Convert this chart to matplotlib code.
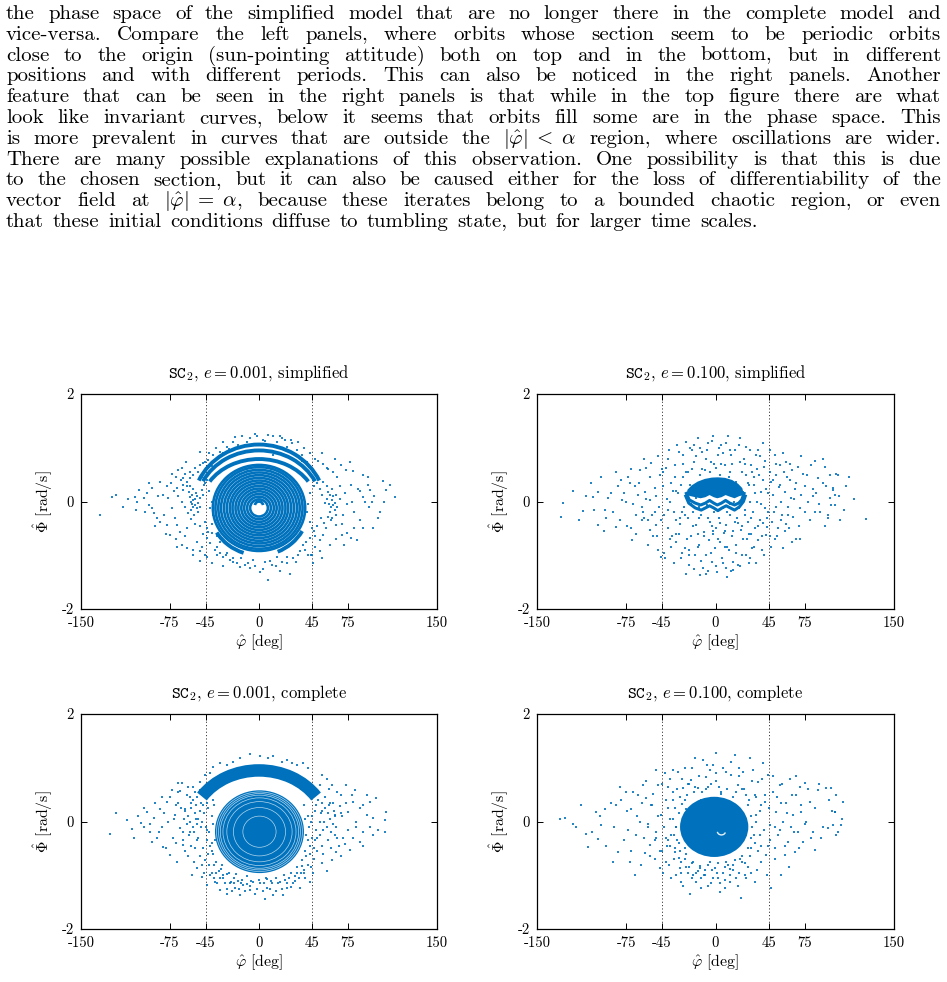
import numpy as np
import matplotlib
matplotlib.use('Agg')
import matplotlib.pyplot as plt
from matplotlib.patches import Ellipse, Arc

plt.rcParams['mathtext.fontset'] = 'cm'
plt.rcParams['font.family'] = ['cmr10', 'DejaVu Serif']
plt.rcParams['axes.unicode_minus'] = False
plt.rcParams['axes.formatter.use_mathtext'] = True
plt.rcParams['lines.scale_dashes'] = False

# ---------------- data ----------------
xticks = [-150, -75, -45, 0, 45, 75, 150]
xtick_labels = ['-150', '-75', '-45', '0', '45', '75', '150']
yticks = [-2, 0, 2]
ytick_labels = ['-2', '0', '2']
alpha_lines = [-45, 45]

titles = [r'$\mathtt{SC}_2$, $e = 0.001$, simplified',
          r'$\mathtt{SC}_2$, $e = 0.100$, simplified',
          r'$\mathtt{SC}_2$, $e = 0.001$, complete',
          r'$\mathtt{SC}_2$, $e = 0.100$, complete']

paragraph = [
    "the phase space of the simplified model that are no longer there in the complete model and",
    "vice-versa. Compare the left panels, where orbits whose section seem to be periodic orbits",
    "close to the origin (sun-pointing attitude) both on top and in the bottom, but in different",
    "positions and with different periods. This can also be noticed in the right panels. Another",
    "feature that can be seen in the right panels is that while in the top figure there are what",
    "look like invariant curves, below it seems that orbits fill some are in the phase space. This",
    r"is more prevalent in curves that are outside the $|\hat{\varphi}|\;<\;\alpha$ region, where oscillations are wider.",
    "There are many possible explanations of this observation. One possibility is that this is due",
    "to the chosen section, but it can also be caused either for the loss of differentiability of the",
    r"vector field at $|\hat{\varphi}|\;=\;\alpha$, because these iterates belong to a bounded chaotic region, or even",
    "that these initial conditions diffuse to tumbling state, but for larger time scales.",
]

# top-left: invariant rings (center, semi-axes)
tl_ring_center = (0.0, -0.12)
tl_ring_a = [7.5, 10.0, 12.5, 14.9, 17.4, 19.8, 22.3, 24.6, 27.1, 29.5, 32.0, 34.3, 36.7, 38.9]
tl_ring_b = [0.16, 0.21, 0.26, 0.31, 0.36, 0.41, 0.46, 0.51, 0.56, 0.61, 0.66, 0.71, 0.76, 0.80]
# small cap inside the central hole
tl_cap = (0.0, -0.08, 3.5, 0.08)
# top-left: island arcs (a, b, t1, t2)  -- parametric angles in degrees
tl_arc_a = [56, 53, 49, 42, 42]
tl_arc_b = [1.16, 1.05, 0.89, 0.90, 0.90]
tl_arc_t1 = [25, 27, 32, 212, 292]
tl_arc_t2 = [155, 153, 148, 252, 330]

# top-left chaotic sea
tl_sea = [(-133.7,-0.25),(-124,0.09),(-120.3,0.12),(-101.5,0.21),(-104.3,0.09),(-102.9,0.0),(-103.5,-0.16),
    (-94.5,0.15),(-97.3,0.06),(-93.1,-0.07),(-90.3,-0.13),(-88.9,-0.22),(-86.1,-0.31),(-83.3,-0.38),(-93.1,0.34),
    (-83.3,0.37),(-77.7,0.28),(-80.5,0.12),(-76.3,0.06),(-73.5,-0.13),(-70.7,-0.31),(-69.3,-0.44),(-66.5,-0.56),
    (-62.3,-0.65),(-60.8,-0.5),(-69.3,-0.84),(-52.4,-0.75),(-48.2,-0.84),(-77.7,-0.44),(-74.9,-0.62),(-73.5,0.52),
    (-67.9,0.59),(-63.7,0.43),(-60.8,0.37),(-58.0,0.28),(-59.4,0.18),(-56.6,0.12),(-55.2,0.03),(-53.8,-0.07),
    (-52.4,-0.13),(-57.5,0.0),(-51.0,-0.03),(-49.6,0.06),(-55.8,-0.1),(-53.0,0.15),(-48.2,0.21),(-46.8,0.12),
    (-55.2,0.24),(-60.8,0.28),(-63.7,0.21),(-51.6,-0.19),(-54.5,-0.25),(-56.5,-0.05),(-58.5,0.08),(-54.0,0.05),
    (-52.0,0.1),(-57.0,-0.15),(-50.0,-0.1),(-45.4,0.34),(-44,0.40),(-48.2,0.46),(-55.2,0.49),(-58,0.43),(-51,0.55),
    (-49.6,0.93),(-45.4,0.74),(-61.4,0.74),(-65.1,0.62),(-44,-0.5),(-39.8,-0.59),(-35.6,-0.65),(-32.8,-0.75),
    (-35.6,-1.0),(-30,-1.03),(-27.2,-0.96),(-24.4,-1.09),(-21.6,-1.06),(-18.8,-1.15),(-16,-1.21),(-11.8,-1.18),
    (-7.6,-1.24),(-4.8,-1.09),(0.8,-1.31),(7.8,-1.46),(5,-1.12),(10.6,-1.18),(14.8,-1.03),(19.0,-1.12),(23.2,-1.03),
    (26,-1.34),(31.6,-1.12),(34.4,-0.93),(38.6,-0.9),(41.4,-0.99),(44.2,-0.99),(47,-0.84),(51.2,-0.72),(54,-0.62),
    (56.8,-0.5),(60.5,-0.34),(64.7,-0.44),(70.3,-0.41),(74.5,-0.59),(70.3,-0.62),(77.3,-0.68),(82.9,-0.72),
    (80.1,-0.5),(96.1,-0.5),(101.8,-0.19),(92.5,-0.1),(89.7,0.0),(78.5,0.0),(87.7,0.09),(107.4,0.21),(114.4,0.09),
    (104.6,0.38),(93.4,0.21),(83.5,0.24),(77.9,0.31),(72.3,0.15),(68.1,0.28),(79.3,0.56),(73.7,0.59),(87.7,0.49),
    (91.9,0.46),(69.5,0.68),(76.5,0.74),(63.9,0.80),(52.7,0.9),(56.9,0.62),(56.9,0.28),(58.3,0.18),(59.7,0.12),
    (61.1,0.03),(62.5,-0.07),(63.9,-0.16),(59.7,-0.19),(55.5,-0.02),(52.7,0.12),(51.3,0.24),(48.5,0.34),
    (45.7,0.40),(61.1,0.24),(65.3,0.12),(54.1,0.37),(63.9,-0.03),(60.5,-0.1),(57.5,0.05),(62.0,0.1),(58.8,-0.05),
    (64.5,-0.25),(61.5,-0.3),(-14.6,1.21),(7.8,1.24),(12.0,1.21),(19.0,1.18),(21.8,1.14),(-7.6,1.18),(-2.0,1.21),
    (3.6,1.14),(27.5,1.08),(31.7,0.96),(35.9,0.86),(40.1,0.74),(-21.6,1.11),(-27.2,1.02),(-32.8,0.93),(-38.4,0.87),
    (-42.6,0.77),(12.0,0.86),(-7.6,0.80),(-38.4,-0.25),(-41.2,-0.13),(-45.4,-0.38),(-39.8,-0.41),(-35.6,-0.34),
    (-42.6,-0.56),(-45.4,-1.0),(-49.6,-0.93),(-35.6,-0.84),(-55.2,-1.0),(-60.8,-0.87),(-44,-1.03),(40.1,-0.19),
    (42.9,-0.38),(44.3,-0.5),(47.1,-0.65),(51.3,-0.93),(52.7,-1.06),(44.3,-1.0),(45.7,-1.15),(-10,1.1),(5,1.12),
    (15,1.1),(-18,1.06),(24,1.02),(-25,0.98),(-30,0.9),(30,0.88),(-36,0.78),(36,0.76),(-40,0.66),(42,0.64),
    (-46,0.3),(46,0.28),(-42,0.2),(43,0.15),(-40,0.0),(41,-0.05),
    (-70,0.45),(-66,0.4),(-62,0.52),(-58,0.55),(-54,0.62),(-50,0.68),(-47,0.72),(-72,0.2),(-68,0.1),(-65,0.0),
    (-62,-0.1),(-60,-0.22),(-57,-0.32),(-54,-0.42),(-50,-0.45),(-47,-0.6),(-44,-0.68),(-41,-0.78),(-37,-0.9),
    (-33,-0.95),(-28,-1.0),(-22,-1.12),(-15,-1.05),(-9,-1.15),(-3,-1.2),(3,-1.25),(9,-1.1),(14,-1.2),(18,-1.3),
    (24,-1.15),(29,-1.05),(33,-1.0),(37,-0.8),(40,-0.75),(43,-0.68),(46,-0.55),(49,-0.45),(52,-0.3),(55,-0.4),
    (58,-0.28),(66,-0.1),(68,0.05),(71,-0.25),(74,-0.05),(80,-0.2),(85,-0.35),(88,-0.5),(92,0.3),(97,0.1),
    (100,-0.3),(66,0.45),(62,0.55),(58,0.6),(54,0.7),(50,0.75),(47,0.8),(43,0.9),(38,1.0),(33,1.1),(27,1.15),
    (18,1.22),(-3,1.25),(-20,1.2),(-30,1.1),(-36,1.0),(-42,0.9),(-80,-0.25),(-85,0.1),(-90,0.25),(-96,-0.2),
    (-110,0.05),(-115,-0.1),(-88,-0.45),(-78,-0.6),(-70,-0.7),(-65,-0.8),(-56,-0.9),(-50,-1.1),(-40,-1.15),
    (-30,-1.2),(60,-0.8),(65,-0.7),(72,-0.8),(85,0.2),(95,0.0),(105,0.0),(110,0.3),(-64,0.3),(-69,0.25),(-74,0.35)]

# top-right: regular island (dome + two wavy invariant curves)
tr_dome_x = [-24.5,-23.5,-20,-15,-9,-3,2,8,14,19,22.5,24,20,16,12,8.5,5,1.5,-1.5,-5,-8.5,-12.5,-17,-21]
tr_dome_y = [0.12,0.22,0.30,0.37,0.42,0.445,0.45,0.44,0.40,0.33,0.25,0.12,0.10,0.06,0.09,0.12,0.08,0.06,0.08,0.12,0.08,0.06,0.08,0.10]
tr_wave1_x = [-24.5,-22,-17,-12.5,-8.5,-5,-1.5,1.5,5,8.5,12,16,19.5,22,24]
tr_wave1_y = [0.15,0.03,-0.03,-0.065,-0.03,0.02,-0.03,-0.065,-0.03,0.02,-0.03,-0.065,-0.03,0.03,0.15]
tr_wave2_x = [-25,-22.5,-17,-12,-8.5,-5,-1.5,2,5.5,9,12.5,16,20,23.5,25]
tr_wave2_y = [0.10,-0.03,-0.12,-0.16,-0.12,-0.08,-0.12,-0.17,-0.12,-0.08,-0.12,-0.16,-0.10,0.0,0.10]

tr_sea = [(-128.2,-0.03),(-129.6,-0.29),(-111.3,-0.17),(-108.5,0.11),(-103,0.09),(-98.7,0.18),(-98.7,-0.44),
    (-93.1,-0.16),(-91.7,-0.3),(-90.3,0.06),(-83.3,-0.47),(-81.9,0.28),(-79.1,0.4),(-78.3,0.03),(-75.1,0.0),
    (-73.5,0.46),(-72.1,0.34),(-70.7,-0.5),(-69.9,-0.72),(-67.9,0.28),(-66.5,-0.25),(-65.1,0.12),(-63.7,0.59),
    (-61.5,-0.1),(-60.9,-0.19),(-59.5,0.18),(-58.1,0.62),(-56.7,-0.34),(-55.3,0.03),(-55.3,-0.53),(-53.9,0.71),
    (-52.5,-0.65),(-51.1,-0.19),(-49.7,-0.44),(-48.3,-0.9),(-47.5,-0.1),(-46.9,0.49),(-45.5,-1.03),(-44.1,0.28),
    (-43.6,-0.25),(-42.7,-1.06),(-41.3,0.62),(-39.9,-0.5),(-38.5,0.0),(-37.1,0.34),(-36.3,-0.65),(-35.2,-0.19),
    (-34.3,0.68),(-32.9,-0.75),(-31.5,0.15),(-30.7,0.93),(-30.1,-0.41),(-28.7,-1.06),(-27.3,0.86),(-26.8,-0.1),
    (-25.9,-0.87),(-25.1,0.55),(-24.5,-1.34),(-23.1,-0.31),(-22.3,-1.18),(-21.7,0.99),(-21.2,0.31),(-20.3,-0.65),
    (-18.9,-0.19),(-18.3,0.74),(-17.5,-0.99),(-16.7,0.06),(-16.1,-0.44),(-14.7,1.18),(-13.9,-0.81),(-13.3,-1.37),
    (-12.7,0.49),(-11.9,-0.25),(-11.1,0.93),(-10.5,-1.24),(-9.9,-0.56),(-9.1,0.59),(-7.7,-0.99),(-7.1,-0.07),
    (-6.3,1.08),(-5.5,-0.72),(-4.9,-0.38),(-3.5,0.74),(-2.7,-1.12),(-2.1,1.22),(-1.5,-0.19),(-0.7,-0.87),(0.1,0.62),
    (0.7,-0.5),(1.3,-1.31),(2.1,0.86),(2.9,-0.31),(3.5,-0.75),(4.1,0.49),(4.9,1.05),(5.7,-1.06),(6.3,-0.13),
    (7.1,-0.59),(7.7,0.68),(8.5,-1.24),(9.1,-0.44),(9.7,-1.4),(10.5,1.22),(11.3,-0.9),(11.9,-0.25),(12.5,0.55),
    (13.3,0.86),(14.1,-0.65),(14.7,-1.12),(15.3,0.0),(16.1,-0.38),(17.0,0.37),(17.5,-0.81),(18.9,-1.18),(19.8,-0.13),
    (20.3,0.74),(20.9,1.18),(21.7,-0.53),(22.5,-0.99),(23.1,0.18),(24.5,-0.25),(25.4,1.02),(25.9,0.49),(26.5,-0.69),
    (27.3,-0.38),(28.7,0.0),(29.3,-1.06),(30.1,0.68),(30.9,-0.87),(31.5,-0.19),(32.1,0.31),(32.9,-0.5),(34.3,0.86),
    (34.9,0.0),(35.7,-0.72),(36.6,0.49),(37.1,-0.34),(38.5,0.18),(39.4,-0.9),(39.9,1.08),(40.5,0.65),(41.3,-0.13),
    (42.2,-0.62),(42.7,0.24),(43.3,-0.47),(44.1,-0.19),(45.5,0.55),(46.1,-0.65),(46.9,0.37),(47.8,-0.38),(48.3,0.12),
    (49.7,0.86),(50.6,-0.1),(51.1,0.49),(52.5,-0.5),(53.4,0.27),(53.9,0.68),(55.3,0.0),(56.2,-0.25),(56.7,-0.87),
    (57.3,0.55),(58.1,0.18),(59.0,-0.41),(59.5,0.74),(60.9,-0.1),(62.3,0.4),(63.7,0.06),(64.6,0.59),(65.1,-0.28),
    (66.5,0.24),(67.9,-0.69),(69.3,0.65),(70.7,-0.13),(71.3,-0.69),(72.1,0.12),(73.5,0.52),(74.9,0.28),(77.7,0.0),
    (80.5,0.68),(81.9,0.24),(83.3,-0.19),(84.7,0.15),(86.1,0.43),(90.3,0.8),(91.7,0.65),(93.1,0.28),(94.5,-0.31),
    (95.9,0.06),(97.3,-0.07),(98.7,0.21),(100.1,0.12),(101.5,0.52),(102.9,0.49),(104.3,-0.34),(109.9,0.28),
    (126.8,-0.33),(94.5,-0.25),(87.5,-0.19),(100,-0.07),(-33,0.2),(-28,-0.2),(-20,0.6),(-15,-0.6),(-8,0.8),(-3,-0.45),
    (3,0.2),(8,-0.85),(12,0.95),(18,-0.3),(25,0.7),(30,-0.6),(-37,-0.85),(-40,0.8),(36,0.95),(40,-0.4),(-22,-0.9),
    (-6,-1.3),(15,-1.28),(28,-1.15),(-18,1.05),(6,0.9),(-30,-0.3),(32,0.45),(-45,0.6),(50,-0.7),(-60,-0.3),(62,-0.5),
    (-10,0.25),(12,0.25),(-27,0.45),(28,0.3),(-14,-0.1),(10,-0.2),(-2,-0.6),(22,-0.45),(-33,-0.6),(-50,0.1),
    (-120,0.2),(-115,-0.35),(-105,0.35),(-102,-0.15),(-96,0.45),(-94,-0.55),(-88,0.15),(-86,-0.2),(-84,0.55),
    (-80,-0.35),(-77,0.15),(-74,-0.45),(-71,0.6),(-69,-0.05),(-67,-0.6),(-64,0.35),(-62,-0.35),(-60,0.8),(-58,0.05),
    (-57,-0.8),(-55,0.45),(-53,-0.25),(-51,0.25),(-49,-0.65),(-48,0.85),(-46,-0.35),(-44,0.55),(-43,-0.95),(-41,0.05),
    (-40,-0.15),(-39,0.95),(-38,-0.7),(-36,0.2),(-35,-1.15),(-34,0.45),(-33,-0.35),(-32,1.05),(-31,-0.6),(-29,0.3),
    (-28,-0.95),(-27,0.7),(-26,-0.25),(-25,1.1),(-24,-0.7),(-23,0.55),(-22,-1.0),(-21,-0.05),(-20,0.95),(-19,-0.45),
    (-18,-1.25),(-17,0.3),(-16,0.85),(-15,-0.85),(-14,-0.3),(-13,1.0),(-12,-1.1),(-11,0.6),(-10,-0.65),(-9,0.35),
    (-8,-1.35),(-7,0.95),(-6,-0.3),(-5,0.55),(-4,-0.95),(-3,1.12),(-2,-0.55),(-1,0.7),(0,-1.2),(1,0.35),(2,-0.7),
    (3,1.0),(4,-0.4),(5,0.7),(6,-1.15),(7,0.2),(8,-0.55),(9,1.08),(10,-0.85),(11,0.45),(12,-0.05),(13,-1.3),
    (14,0.7),(15,-0.55),(16,0.95),(17,-0.95),(18,0.25),(19,-0.4),(20,1.05),(21,-1.2),(22,0.55),(23,-0.7),(24,0.8),
    (25,-0.15),(26,-1.0),(27,0.35),(28,-0.6),(29,0.95),(30,-0.3),(31,0.55),(32,-0.85),(33,0.15),(34,-1.15),
    (35,0.6),(36,-0.45),(37,0.85),(38,-0.05),(39,-0.65),(40,0.4),(41,-1.0),(42,0.75),(43,-0.3),(44,0.15),(46,0.95),
    (47,-0.85),(48,0.4),(49,-0.2),(51,0.7),(52,-0.65),(54,0.3),(55,-0.35),(57,0.9),(58,-0.55),(60,0.45),(61,-0.25),
    (63,0.7),(64,-0.75),(66,0.05),(68,0.35),(70,-0.45),(72,0.85),(75,-0.2),(77,0.5),(79,-0.35),(82,0.1),(84,0.75),
    (87,-0.05),(90,0.35),(92,-0.45),(96,0.5),(99,0.25),(104,0.1),(108,-0.15),(112,0.45),(116,0.05)]

# bottom-left: filled regular region and crescent band
bl_blob_center = (0.4, -0.19)
bl_blob_a, bl_blob_b = 37.5, 0.77
bl_gap_a = [36.2, 34.5, 33.0, 30.8, 27.5, 22.0, 14.0]
bl_gap_b = [0.74, 0.71, 0.68, 0.63, 0.56, 0.45, 0.29]
bl_band_center = (0.0, -0.15)
bl_band_a, bl_band_b = 58.0, 1.10
bl_band_t = (34, 146)

bl_sea = [(-125.9,-0.24),(-120.3,0.15),(-111.3,0.02),(-107.1,-0.14),(-99.5,-0.03),(-97.3,-0.1),(-94.5,0.18),
    (-91.7,-0.19),(-88.9,0.06),(-86.1,-0.31),(-90.3,-0.38),(-83.3,0.24),(-81.9,-0.1),(-80.5,-0.47),(-77.7,0.37),
    (-76.3,0.0),(-74.9,-0.62),(-73.5,0.59),(-72.1,-0.31),(-70.7,0.12),(-69.3,-0.75),(-67.9,0.34),(-66.5,-0.13),
    (-65.1,0.71),(-63.7,-0.44),(-62.3,0.24),(-60.9,0.49),(-59.5,-0.65),(-58.0,-0.19),(-56.6,-1.0),(-55.2,0.65),
    (-53.8,-0.5),(-52.4,-0.87),(-49.6,0.74),(-48.2,-1.03),(-45.4,-0.72),(-44.0,-1.18),(-39.8,-0.96),(-37.0,-1.12),
    (-32.8,-1.27),(-30.0,-1.06),(-27.2,-1.34),(-24.4,-1.15),(-20.2,-1.24),(-16.0,-1.37),(-13.2,-1.18),(-7.6,-1.27),
    (-3.4,-1.34),(5.0,-1.44),(6.4,-1.24),(12.0,-1.37),(20.5,-1.37),(23.3,-1.24),(28.9,-1.15),(34.5,-1.24),
    (38.7,-1.06),(42.9,-1.12),(45.7,-0.96),(52.7,-0.78),(56.9,-0.93),(61.1,-0.72),(65.3,-0.56),(69.5,-0.65),
    (72.3,-0.41),(76.5,-0.53),(79.3,-0.31),(84.9,-0.38),(87.7,-0.19),(93.4,-0.1),(96.2,-0.25),(100.4,-0.16),
    (106.0,-0.19),(107.4,0.18),(106,0.03),(96.2,0.06),(93.4,0.37),(99.0,0.43),(90.6,0.49),(87.7,0.31),(80.7,0.59),
    (79.3,0.37),(73.7,0.68),(75.1,0.18),(69.5,0.49),(68.1,0.28),(63.9,0.12),(61.1,0.68),(56.9,0.8),(52.7,0.86),
    (51.3,0.68),(82.1,0.0),(90.6,0.12),(-7.6,1.25),(0.8,1.21),(7.8,1.18),(12.0,1.22),(19,1.11),(23.3,1.14),
    (27.5,1.08),(31.7,1.05),(37.3,1.08),(41.5,0.99),(-21.6,1.11),(-27.2,1.05),(-32.8,1.08),(-38.4,1.02),(-41.2,0.9),
    (-45.4,0.87),(-16.0,1.18),(-49.6,0.59),(-55.2,0.4),(-66.5,0.56),(-67.9,0.71),
    (-42,-0.2),(-41,-0.45),(-39,-0.6),(-36,-0.75),(-32,-0.88),(-27,-0.98),(-21,-1.05),(-14,-1.08),(-7,-1.1),
    (0,-1.08),(7,-1.07),(14,-1.05),(21,-1.0),(27,-0.95),(32,-0.85),(36,-0.72),(39,-0.55),(41,-0.35),(42,-0.1),
    (41,0.1),(38,0.3),(-40,0.1),(-38,0.3),(-44,-0.35),(-43,-0.6),(-38,-0.8),(-30,-1.0),(-24,-1.12),(-10,-1.16),
    (4,-1.15),(18,-1.12),(30,-1.02),(38,-0.9),(43,-0.6),(45,-0.3),(44,0.0),(-45,-0.1),(-46,0.15),(-47,-0.5),
    (46,-0.5),(48,-0.15),(47,0.2),(-60,0.1),(-58,0.0),(-56,-0.1),(-62,0.2),(-57,0.25),(-54,0.15),(-52,-0.05),
    (-55,-0.2),(-59,-0.25),(-61,-0.05),(-63,0.05),(-53,0.3),(-50,0.2),(-51,0.05),(-49,-0.1),(-57,0.35),(58,0.15),
    (60,0.05),(62,-0.05),(56,0.25),(59,0.3),(63,0.2),(55,0.0),(57,-0.1),(61,-0.2),(64,0.1),(53,0.35),(52,0.15),
    (51,0.0),(54,-0.15),(65,-0.1),(60,0.35),(-40,-0.4),(-39,-0.05),(40,-0.25),(39,0.05),(-34,-0.92),(-18,-1.1),
    (10,-1.1),(25,-1.05),(35,-0.95),(-44,0.35),(44,0.45),(-35,0.62),(35,0.6),(-30,0.72),(28,0.75),(-24,0.8),
    (20,0.8),(-48,0.0),(49,-0.3),(-52,-0.35),(53,-0.45),(-64,-0.35),(66,-0.3),(-70,0.3),(70,0.1),
    (-75,0.45),(-72,0.05),(-70,-0.4),(-68,0.55),(-66,0.25),(-64,-0.2),(-62,-0.55),(-60,0.65),(-58,0.45),(-57,-0.45),
    (-55,-0.75),(-54,0.55),(-53,0.05),(-52,0.45),(-51,-0.3),(-50,-0.65),(-49,0.35),(-48,-0.8),(-47,0.3),(-46,-0.95),
    (-45,0.45),(-44,-0.15),(-43,0.25),(-42,-0.8),(-41,-1.0),(-40,-0.55),(-39,0.4),(-38,-1.05),(-37,-0.35),
    (-36,-0.95),(-35,-1.15),(-33,-1.05),(-31,-0.8),(-29,-1.15),(-27,-1.25),(-25,-0.95),(-23,-1.3),(-21,-1.15),
    (-19,-0.98),(-17,-1.25),(-15,-1.15),(-12,-1.3),(-10,-1.02),(-8,-1.2),(-5,-1.12),(-2,-1.25),(1,-1.15),(3,-1.3),
    (6,-1.05),(9,-1.25),(11,-1.15),(14,-1.3),(16,-1.15),(19,-1.25),(22,-1.08),(24,-1.15),(27,-1.22),(30,-1.1),
    (32,-0.95),(34,-1.05),(36,-0.82),(38,-0.95),(40,-0.65),(41,-0.8),(43,-0.45),(44,-0.85),(45,0.1),(46,-0.7),
    (47,-0.35),(48,0.3),(49,-0.55),(50,0.4),(51,-0.25),(53,0.2),(54,-0.6),(56,0.45),(58,-0.35),(59,0.6),(61,-0.5),
    (62,0.35),(64,-0.25),(66,0.55),(67,-0.45),(69,0.15),(71,-0.3),(73,0.35),(75,-0.15),(78,0.5),(82,-0.1),
    (85,0.25),(88,-0.45),(-80,0.15),(-84,-0.2),(-88,0.35),(-92,-0.05),(-97,0.25),(-102,0.1),(-105,-0.3),(-78,-0.5),
    (-82,0.45)]

# bottom-right: filled chaotic-looking core
br_blob_center = (-1.1, -0.10)
br_blob_a, br_blob_b = 28.7, 0.56
br_hole = (5.0, -0.18, 3.5, 0.07)

br_sea = [(-131,0.04),(-126.8,0.07),(-117,-0.1),(-108.5,-0.24),(-107.1,-0.47),(-100.1,0.18),(-98.7,-0.33),
    (-95.9,-0.07),(-93.1,0.24),(-86.1,-0.76),(-83.3,0.31),(-81.9,-0.56),(-79.7,0.4),(-75.1,0.55),(-73.5,-0.16),
    (-72.1,-0.75),(-70.7,0.24),(-67.9,-1.0),(-66.5,-0.25),(-65.1,0.49),(-63.7,0.0),(-60.9,0.68),(-59.5,-0.59),
    (-58.1,0.43),(-56.7,-0.1),(-55.3,-0.44),(-52.5,0.52),(-51.1,-0.69),(-49.7,-0.19),(-48.3,0.68),(-46.9,-0.87),
    (-45.5,0.12),(-42.7,0.9),(-41.3,-0.75),(-39.9,-0.34),(-38.5,0.8),(-37.1,-1.06),(-35.7,0.4),(-34.3,-0.56),
    (-32.9,-0.1),(-31.5,0.93),(-30.1,-0.87),(-28.7,-1.12),(-27.3,0.62),(-25.9,-0.5),(-24.5,0.24),(-23.1,-0.96),
    (-21.7,-1.34),(-20.3,0.77),(-18.9,-0.75),(-17.5,1.18),(-16.1,-1.12),(-14.7,0.62),(-13.3,-0.87),(-11.9,-1.24),
    (-10.5,1.14),(-9.1,-0.99),(-7.7,0.83),(-6.3,0.65),(-4.9,-0.75),(-3.5,-1.15),(-2.1,1.05),(-0.7,-0.87),(0.7,1.27),
    (2.1,-1.06),(3.5,-1.31),(4.9,0.52),(6.3,-0.96),(7.7,-1.24),(9.1,0.93),(10.5,-0.81),(11.9,-1.12),(13.3,0.86),
    (14.7,-0.9),(16.1,1.24),(17.5,-1.06),(18.9,0.68),(20.3,-0.69),(21.7,-1.43),(23.1,0.93),(24.5,-0.99),(25.9,0.49),
    (27.3,-0.84),(28.7,1.18),(30.1,-0.5),(31.5,0.96),(32.9,-1.12),(34.3,0.12),(35.7,0.74),(37.1,-0.25),(38.5,-0.75),
    (39.9,1.08),(41.3,0.37),(42.7,-0.62),(44.1,0.86),(45.5,-0.07),(47.0,-1.24),(48.3,0.55),(49.7,-0.5),(51.1,0.18),
    (52.5,-0.25),(53.9,0.68),(55.3,-0.99),(56.7,0.0),(58.1,-0.62),(59.5,0.34),(60.9,-0.38),(62.3,0.8),(63.7,-0.1),
    (65.1,0.12),(66.5,-0.56),(67.9,0.49),(69.3,-0.19),(70.7,0.65),(72.1,0.18),(73.5,-0.38),(74.9,0.71),(76.3,0.0),
    (79.1,0.37),(81.9,-0.19),(83.3,-0.53),(86.1,0.59),(88.9,-0.31),(93.1,0.62),(94.5,-0.13),(97.3,0.62),(98.7,-0.07),
    (100.1,0.18),(101.5,0.49),(101.5,-0.25),(105.7,-0.07),(107.1,0.37),(100.7,0.17),
    (-33,-0.1),(-32,-0.35),(-30,-0.55),(-26,-0.7),(-20,-0.78),(-13,-0.82),(-6,-0.8),(2,-0.78),(9,-0.76),(16,-0.72),
    (22,-0.65),(27,-0.5),(30,-0.3),(31,-0.1),(30,0.1),(27,0.3),(-31,0.15),(-28,0.32),(-35,-0.25),(-34,-0.5),
    (-31,-0.68),(-25,-0.85),(-15,-0.92),(-3,-0.9),(12,-0.88),(25,-0.78),(33,-0.4),(34,0.0),(-36,0.05),(-24,0.5),
    (-18,0.55),(-8,0.6),(5,0.55),(15,0.45),(-38,-0.45),(-29,-0.95),(-10,-1.0),(20,-0.95),(36,-0.55),(38,0.3),
    (-42,-0.3),(-40,0.25),(-22,0.7),(0,0.75),(22,0.6),(-12,0.4),(-45,-0.55),(44,-0.45),(-54,0.3),(55,0.35),
    (-20,-1.05),(8,-1.08),(30,-0.95),(-36,0.55),(33,0.5),(-5,0.95),(-26,1.0),(20,1.0),(-50,-0.3),(50,-0.1),
    (-120,-0.05),(-113,0.3),(-104,-0.2),(-97,0.1),(-92,-0.45),(-88,0.35),(-85,-0.1),(-80,0.65),(-77,-0.35),
    (-74,0.2),(-71,-0.55),(-69,0.55),(-66,0.1),(-63,-0.8),(-62,0.35),(-60,-0.3),(-58,0.75),(-57,-0.05),(-55,-0.65),
    (-53,0.3),(-51,-0.35),(-50,0.95),(-48,0.1),(-47,-0.55),(-45,0.7),(-44,-0.95),(-43,-0.1),(-42,0.4),(-41,-0.45),
    (-40,0.65),(-39,-0.8),(-38,0.05),(-37,-0.25),(-36,0.95),(-35,-0.7),(-34,0.25),(-33,-1.0),(-32,0.6),(-31,-0.4),
    (-30,0.45),(-29,-0.75),(-28,0.8),(-27,-1.2),(-26,0.4),(-25,-0.6),(-23,0.7),(-22,-0.85),(-20,1.0),(-19,-1.0),
    (-17,0.65),(-16,-0.95),(-14,0.85),(-12,-1.05),(-11,0.55),(-9,-0.9),(-7,1.05),(-6,-1.2),(-4,0.7),(-2,-1.05),
    (0,0.9),(1,-0.95),(3,0.65),(4,-1.15),(6,1.0),(8,-0.85),(10,0.6),(12,-1.0),(13,1.1),(15,-0.8),(17,0.55),
    (19,-1.2),(20,0.85),(22,-0.75),(24,0.6),(26,-1.05),(28,0.4),(29,-0.65),(31,0.75),(32,-0.25),(34,0.45),
    (35,-0.9),(37,0.2),(38,-0.45),(39,0.8),(41,-0.15),(42,0.5),(43,-1.0),(45,0.25),(46,-0.35),(48,0.85),(50,-0.7),
    (52,0.45),(54,-0.15),(56,0.7),(58,-0.45),(60,0.15),(62,-0.85),(64,0.5),(66,-0.2),(68,0.85),(70,-0.5),(72,0.3),
    (75,-0.05),(78,0.6),(80,-0.3),(84,0.25),(87,0.7),(90,-0.1),(95,0.4),(98,0.2),(103,-0.2),(106,0.05)]

C = '#0072bd'
W, H = 947, 982

fig = plt.figure(figsize=(W / 100, H / 100), dpi=100)
fig.patch.set_facecolor('white')

rects = [[81 / W, 1 - 609 / H, 356 / W, 215 / H],
         [537 / W, 1 - 609 / H, 357 / W, 215 / H],
         [81 / W, 1 - 929 / H, 356 / W, 215 / H],
         [537 / W, 1 - 929 / H, 357 / W, 215 / H]]
axes = [fig.add_axes(rc) for rc in rects]

FS = 10.6
FS_T = 12.0
FS_L = 11.4


def setup(ax, title):
    ax.set_xlim(-150, 150)
    ax.set_ylim(-2, 2)
    ax.set_xticks(xticks)
    ax.set_xticklabels(xtick_labels)
    ax.set_yticks(yticks)
    ax.set_yticklabels(ytick_labels)
    ax.tick_params(direction='in', top=True, right=True, length=4, width=0.7,
                   labelsize=FS, pad=5)
    for s in ax.spines.values():
        s.set_linewidth(0.9)
    for v in alpha_lines:
        ax.axvline(v, color='#333333', lw=0.7, ls=(0, (0.8, 1.6)), zorder=0)
    ax.set_title(title, fontsize=FS_T, pad=12)
    ax.set_xlabel(r'$\hat{\varphi}$ [deg]', fontsize=FS_L, labelpad=2)
    ax.set_ylabel(r'$\hat{\Phi}$ [rad/s]', fontsize=FS_L, labelpad=5)


def sea(ax, pts):
    p = np.array(pts)
    ax.plot(p[:, 0], p[:, 1], 's', ms=1.5, mew=0, color=C, alpha=0.85)


def arc_theta(a, b, t):
    tr = np.deg2rad(t)
    return np.rad2deg(np.arctan2(b * np.sin(tr), a * np.cos(tr)))


for ax, t in zip(axes, titles):
    setup(ax, t)

# top-left
ax = axes[0]
sea(ax, tl_sea)
for a, b in zip(tl_ring_a, tl_ring_b):
    ax.add_patch(Ellipse(tl_ring_center, 2 * a, 2 * b, fill=False, ec=C, lw=1.9))
cx, cy, ca, cb = tl_cap
ax.add_patch(Arc((cx, cy), 2 * ca, 2 * cb, theta1=arc_theta(ca, cb, 10),
                 theta2=arc_theta(ca, cb, 170), ec=C, lw=2.0))
for a, b, t1, t2 in zip(tl_arc_a, tl_arc_b, tl_arc_t1, tl_arc_t2):
    ax.add_patch(Arc((0, -0.1), 2 * a, 2 * b, theta1=arc_theta(a, b, t1),
                     theta2=arc_theta(a, b, t2), ec=C, lw=2.8))

# top-right
ax = axes[1]
sea(ax, tr_sea)
ax.fill(tr_dome_x, tr_dome_y, color=C, lw=0)
ax.plot(tr_wave1_x, tr_wave1_y, color=C, lw=2.2, solid_joinstyle='round')
ax.plot(tr_wave2_x, tr_wave2_y, color=C, lw=2.2, solid_joinstyle='round')

# bottom-left
ax = axes[2]
sea(ax, bl_sea)
ax.add_patch(Ellipse(bl_blob_center, 2 * bl_blob_a, 2 * bl_blob_b, color=C, lw=0))
for a, b in zip(bl_gap_a, bl_gap_b):
    ax.add_patch(Ellipse(bl_blob_center, 2 * a, 2 * b, fill=False, ec='white', lw=0.5, alpha=0.7))
ax.add_patch(Arc(bl_band_center, 2 * bl_band_a, 2 * bl_band_b,
                 theta1=arc_theta(bl_band_a, bl_band_b, bl_band_t[0]),
                 theta2=arc_theta(bl_band_a, bl_band_b, bl_band_t[1]),
                 ec=C, lw=9, capstyle='butt'))

# bottom-right
ax = axes[3]
sea(ax, br_sea)
ax.add_patch(Ellipse(br_blob_center, 2 * br_blob_a, 2 * br_blob_b, color=C, lw=0))
hx, hy, ha_, hb_ = br_hole
ax.add_patch(Arc((hx, hy), 2 * ha_, 2 * hb_, theta1=arc_theta(ha_, hb_, 190),
                 theta2=arc_theta(ha_, hb_, 340), ec='white', lw=1.0, alpha=0.9))

# ---------------- paragraph (justified) ----------------
FS_TXT = 15.0
fig.canvas.draw()
r = fig.canvas.get_renderer()


def width_of(s):
    t = fig.text(0, 0, s, fontsize=FS_TXT)
    w = t.get_window_extent(r).width
    t.remove()
    return w


space_w = width_of('a a') - width_of('aa')
left_px, right_px = 6, 941
base0, step = 19.0, 20.8
for i, line in enumerate(paragraph):
    toks = line.split(' ')
    ws = [width_of(tk) for tk in toks]
    if i < len(paragraph) - 1:
        gap = (right_px - left_px - sum(ws)) / (len(toks) - 1)
    else:
        gap = space_w * 1.25
    x = left_px
    yb = H - (base0 + step * i)
    for tk, w in zip(toks, ws):
        fig.text(x / W, yb / H, tk, fontsize=FS_TXT, ha='left', va='baseline')
        x += w + gap

fig.savefig('out.png', dpi=100)
